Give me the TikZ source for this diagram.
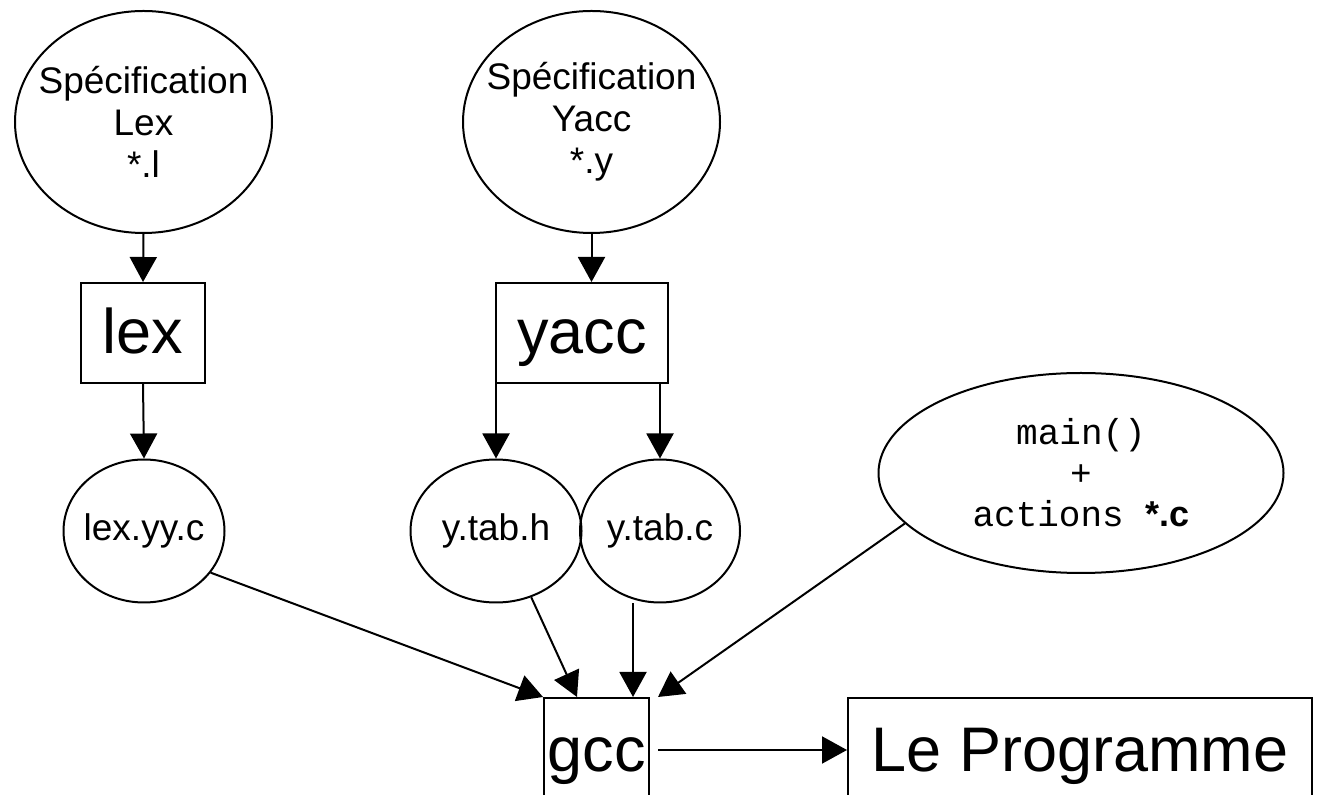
\documentclass[tikz,border=0pt]{standalone}
\usepackage{fontspec}
\setmainfont{Liberation Sans}
\setmonofont{Liberation Mono}
\usetikzlibrary{arrows.meta,shapes.geometric}

\begin{document}
\begin{tikzpicture}[x=0.5pt,y=-0.5pt,
  flow/.style={-{Triangle[length=12.5pt,width=13.5pt]},draw=black,line width=1pt},
  spec/.style={ellipse,draw,line width=1pt,inner xsep=-12pt,inner ysep=0pt,align=center,
    minimum width=128.5pt,minimum height=111pt,font=\fontsize{18.5}{21}\selectfont},
  file/.style={ellipse,draw,line width=1pt,inner xsep=-6pt,inner ysep=0pt,
    minimum height=71.5pt,font=\fontsize{18.5}{21}\selectfont},
  tool/.style={rectangle,draw,line width=1pt,inner sep=0pt,minimum height=50pt,
    text height=21pt,text depth=0pt,font=\fontsize{31.5}{36}\selectfont},
]
\useasboundingbox (0,0) rectangle (1317,795);
% sources
\node[spec] (specL) at (143.5,122) {Spécification\\Lex\\*.l};
\node[spec] (specY) at (591.5,122) {Spécification\\Yacc\\*.y};
% generators
\node[tool,minimum width=62pt] (lexbox) at (143,333) {lex};
\node[tool,minimum width=86pt] (yaccbox) at (582,333) {yacc};
% generated files
\node[file,minimum width=80.5pt] (lexyy) at (144,531) {lex.yy.c};
\node[file,minimum width=85.5pt] (ytabh) at (496,531) {y.tab.h};
\node[file,minimum width=80pt] (ytabc) at (660,531) {y.tab.c};
\node[ellipse,draw,line width=1pt,inner sep=0pt,align=center,minimum width=202.5pt,
  minimum height=100pt,font=\fontsize{18}{20.5}\selectfont] (mainc) at (1081,473)
  {\texttt{main()}\\\texttt{+}\\\texttt{actions }\textbf{*.c}};
% compilation
\node[tool,minimum width=52.5pt,minimum height=52pt] (gcc) at (596.5,750) {gcc};
\node[tool,minimum width=232pt,minimum height=52pt] (prog) at (1080,750) {Le Programme};
\coordinate (gccin2) at ([xshift=-9.75pt]gcc.north);
\coordinate (gccin3) at ([xshift=18.25pt]gcc.north);
\coordinate (gccin4) at ([xshift=4pt]gcc.north east);

\draw[flow] (specL.south) -- (lexbox.north);
\draw[flow] (specY.south) -- (specY.south |- yaccbox.north);
\draw[flow] (lexbox.south) -- (lexyy.north);
\draw[flow] (ytabh.north |- yaccbox.south) -- (ytabh.north);
\draw[flow] (ytabc.north |- yaccbox.south) -- (ytabc.north);
\draw[flow] (lexyy.-32) -- (gcc.north west);
\draw[flow] (ytabh.-62) -- (gccin2);
\draw[flow] (gccin3 |- ytabc.south) -- (gccin3);
\draw[flow] (mainc.196) -- (gccin4);
\draw[flow,shorten <=4pt] (gcc.east) -- (prog.west);
\end{tikzpicture}
\end{document}
